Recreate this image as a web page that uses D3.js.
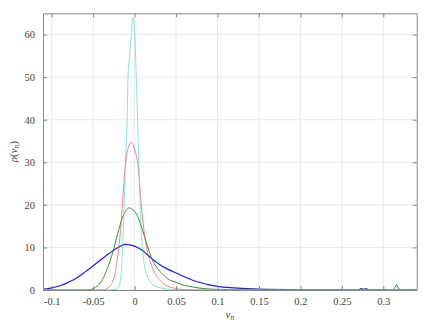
<!DOCTYPE html>
<html>
<head>
<meta charset="utf-8">
<script src="https://cdn.jsdelivr.net/npm/d3@7"></script>
<style>
  body { margin: 0; background: #fff; }
  text { font-family: "Liberation Serif", serif; fill: #444; }
</style>
</head>
<body>
<div id="container"></div>
<script>
var width = 436,
    height = 325;

// x positions and densities, one pair of arrays per curve
var blueX = [-0.1105, -0.1, -0.09, -0.08, -0.07, -0.06, -0.05, -0.04, -0.03, -0.02, -0.011, 0, 0.01, 0.02, 0.03, 0.04, 0.05, 0.06, 0.07, 0.08, 0.09, 0.1, 0.12, 0.15, 0.2, 0.25, 0.27, 0.273, 0.276, 0.279, 0.282, 0.3, 0.34];
var blueY = [0.15, 0.5, 1.0, 1.8, 2.8, 4.2, 5.7, 7.2, 8.7, 10.0, 10.7, 10.3, 9.2, 7.5, 6.0, 4.9, 4.0, 3.1, 2.3, 1.7, 1.2, 0.85, 0.5, 0.2, 0.05, 0.01, 0, 0.3, 0.1, 0.35, 0, 0, 0];

var greenX = [-0.1105, -0.06, -0.055, -0.05, -0.045, -0.04, -0.035, -0.03, -0.025, -0.02, -0.015, -0.01, -0.0065, -0.003, 0.003, 0.008, 0.012, 0.016, 0.021, 0.026, 0.031, 0.04, 0.05, 0.06, 0.07, 0.08, 0.1, 0.13, 0.16, 0.272, 0.275, 0.278, 0.31, 0.314, 0.316, 0.318, 0.322, 0.34];
var greenY = [0, 0, 0.05, 0.3, 0.9, 2.0, 4.0, 6.6, 9.8, 13.5, 16.8, 18.8, 19.3, 19.0, 17.6, 15.0, 12.5, 10.0, 7.2, 5.5, 4.3, 2.6, 1.8, 1.1, 0.7, 0.4, 0.15, 0.05, 0, 0, 0.3, 0, 0, 0.6, 1.3, 0.5, 0, 0];

var redX = [-0.1105, -0.04, -0.035, -0.03, -0.025, -0.02, -0.017, -0.015, -0.011, -0.0075, -0.0036, 0, 0.004, 0.0085, 0.012, 0.015, 0.02, 0.025, 0.03, 0.035, 0.04, 0.05, 0.06, 0.08, 0.277, 0.28, 0.283, 0.34];
var redY = [0, 0, 0.2, 0.9, 2.8, 8.5, 14, 19.5, 29.5, 33.5, 34.7, 33, 29.5, 19, 13, 9.5, 6, 3.8, 2.4, 1.5, 0.9, 0.35, 0.1, 0, 0, 0.4, 0, 0];

var cyanX = [-0.1105, -0.03, -0.022, -0.019, -0.017, -0.015, -0.013, -0.011, -0.009, -0.008, -0.006, -0.004, -0.002, 0, 0.002, 0.0036, 0.005, 0.0065, 0.008, 0.011, 0.015, 0.019, 0.025, 0.031, 0.04, 0.05, 0.07, 0.312, 0.316, 0.32, 0.34];
var cyanY = [0, 0, 0.2, 0.8, 2.3, 8, 18, 30, 40, 50, 55, 60, 64, 61, 50, 40, 30, 21, 14, 7, 3.5, 1.9, 0.9, 0.5, 0.2, 0.05, 0, 0, 0.7, 0, 0];

var xTicks = [-0.1, -0.05, 0, 0.05, 0.1, 0.15, 0.2, 0.25, 0.3];
var yTicks = [0, 10, 20, 30, 40, 50, 60];

var series = [
  { x: blueX, y: blueY, color: "#1a1aff", w: 1.2 },
  { x: greenX, y: greenY, color: "#1f8a1f", w: 0.9 },
  { x: redX, y: redY, color: "#ff4a4a", w: 0.7 },
  { x: cyanX, y: cyanY, color: "#4fdcd2", w: 0.7 }
];

var margin = { left: 43, right: 19.3, top: 13.3, bottom: 35 };

var svg = d3.select("#container").append("svg")
  .attr("width", width)
  .attr("height", height);

var x = d3.scaleLinear()
  .domain([-0.1105, 0.3403])
  .range([margin.left, width - margin.right]);

var y = d3.scaleLinear()
  .domain([0, 65])
  .range([height - margin.bottom, margin.top]);

var x0 = x.range()[0], x1 = x.range()[1],
    y0 = y.range()[0], y1 = y.range()[1];

// grid
var grid = svg.append("g").attr("stroke", "#e3e3e3").attr("stroke-width", 0.8);
grid.selectAll("line.gx").data(xTicks).enter().append("line")
  .attr("x1", d => x(d)).attr("x2", d => x(d))
  .attr("y1", y0).attr("y2", y1);
grid.selectAll("line.gy").data(yTicks).enter().append("line")
  .attr("x1", x0).attr("x2", x1)
  .attr("y1", d => y(d)).attr("y2", d => y(d));

// curves
var clip = svg.append("clipPath").attr("id", "clip").append("rect")
  .attr("x", x0).attr("y", y1).attr("width", x1 - x0).attr("height", y0 - y1);

var line = d3.line()
  .x(d => x(d[0]))
  .y(d => y(d[1]))
  .curve(d3.curveMonotoneX);

svg.append("g").attr("clip-path", "url(#clip)")
  .selectAll("path")
  .data(series)
  .enter().append("path")
  .attr("d", s => line(s.x.map((v, i) => [v, s.y[i]])))
  .attr("fill", "none")
  .attr("stroke", s => s.color)
  .attr("stroke-width", s => s.w)
  .attr("stroke-linejoin", "round");

// axes, ticks pointing inward on all four sides
var fmt = d => d === 0 ? "0" : String(d).replace("\u2212", "-");

svg.append("g")
  .attr("transform", "translate(0," + y0 + ")")
  .call(d3.axisBottom(x).tickValues(xTicks).tickSizeInner(-4).tickSizeOuter(0).tickPadding(8).tickFormat(fmt));
svg.append("g")
  .attr("transform", "translate(0," + y1 + ")")
  .call(d3.axisTop(x).tickValues(xTicks).tickSizeInner(-4).tickSizeOuter(0).tickFormat(""));
svg.append("g")
  .attr("transform", "translate(" + x0 + ",0)")
  .call(d3.axisLeft(y).tickValues(yTicks).tickSizeInner(-4).tickSizeOuter(0).tickPadding(8));
svg.append("g")
  .attr("transform", "translate(" + x1 + ",0)")
  .call(d3.axisRight(y).tickValues(yTicks).tickSizeInner(-4).tickSizeOuter(0).tickFormat(""));

svg.selectAll(".domain").attr("stroke", "#888").attr("stroke-width", 1);
svg.selectAll(".tick line").attr("stroke", "#888");
svg.selectAll(".tick text")
  .attr("font-family", "Liberation Serif, serif")
  .attr("font-size", 10.5)
  .attr("fill", "#444");

// axis labels
var xl = svg.append("text")
  .attr("x", (x0 + x1) / 2)
  .attr("y", 318)
  .attr("text-anchor", "middle")
  .attr("font-size", 11);
xl.append("tspan").attr("font-style", "italic").text("v");
xl.append("tspan").attr("font-style", "italic").attr("font-size", 7.5).attr("dy", 2).text("n");

var yl = svg.append("text")
  .attr("transform", "translate(17," + ((y0 + y1) / 2) + ") rotate(-90)")
  .attr("text-anchor", "middle")
  .attr("font-size", 11);
yl.append("tspan").attr("font-style", "italic").text("\u03c1");
yl.append("tspan").text("(");
yl.append("tspan").attr("font-style", "italic").text("v");
yl.append("tspan").attr("font-style", "italic").attr("font-size", 7.5).attr("dy", 2).text("n");
yl.append("tspan").attr("dy", -2).text(")");
</script>
</body>
</html>
